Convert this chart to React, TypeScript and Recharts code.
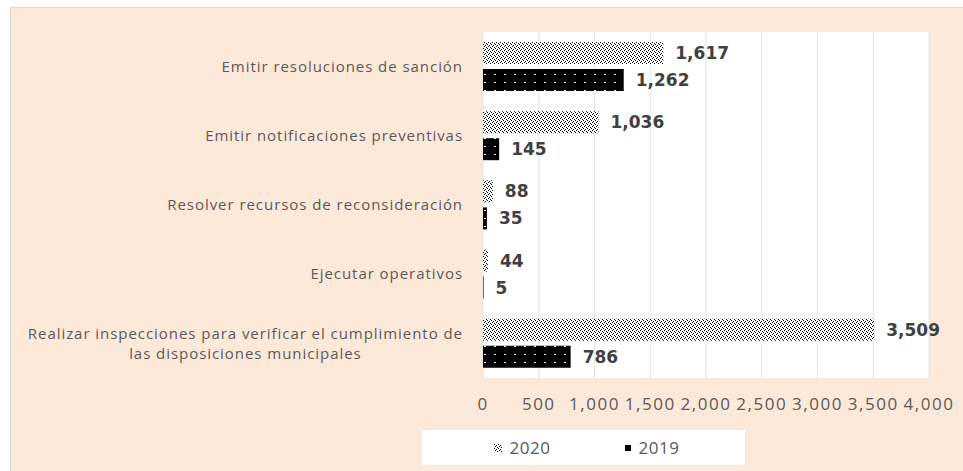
import { useLayoutEffect, useRef, useState } from "react";
import {
  BarChart,
  Bar,
  XAxis,
  YAxis,
  CartesianGrid,
  LabelList,
} from "recharts";

const categories = [
  "Emitir resoluciones de sanción",
  "Emitir notificaciones preventivas",
  "Resolver recursos de reconsideración",
  "Ejecutar operativos",
  "Realizar inspecciones para verificar el cumplimiento de\nlas disposiciones municipales",
];
const values2020 = [1617, 1036, 88, 44, 3509];
const values2019 = [1262, 145, 35, 5, 786];
const xTicks = [0, 500, 1000, 1500, 2000, 2500, 3000, 3500, 4000];
const seriesNames = ["2020", "2019"];

const data = categories.map((name, i) => ({
  name,
  y2020: values2020[i],
  y2019: values2019[i],
}));

const fmt = (v: number) => Number(v).toLocaleString("en-US");

const CategoryTick = ({ x, y, payload }: any) => {
  const lines = String(payload.value).split("\n");
  const ref = useRef<SVGTextElement>(null);
  const [w, setW] = useState(0);
  useLayoutEffect(() => {
    if (ref.current) setW(ref.current.getComputedTextLength());
  }, [payload.value]);
  const style = { fontFamily: "Open Sans", fontSize: 15, fill: "#595959", letterSpacing: 0.95 };
  const lh = 20;
  const start = y - ((lines.length - 1) * lh) / 2;
  return (
    <g>
      {lines.map((l, i) => (
        <text
          key={i}
          ref={i === 0 ? ref : undefined}
          x={i === 0 ? x : x - w / 2}
          y={start + i * lh}
          dy="0.35em"
          textAnchor={i === 0 ? "end" : "middle"}
          style={style}
        >
          {l}
        </text>
      ))}
    </g>
  );
};

const LegendBox = () => (
  <div
    style={{
      position: "absolute",
      left: 411,
      top: 422,
      background: "#fff",
      width: 323,
      height: 35,
      display: "flex",
      alignItems: "center",
      justifyContent: "center",
      gap: 74,
      fontFamily: "Open Sans",
      fontSize: 17,
      color: "#595959",
      letterSpacing: 0.5,
      paddingLeft: 6,
      boxSizing: "border-box",
    }}
  >
    <span style={{ display: "flex", alignItems: "center", gap: 8 }}>
      <svg width={8} height={8}>
        <rect width={8} height={8} fill="url(#pat2020)" />
      </svg>
      {seriesNames[0]}
    </span>
    <span style={{ display: "flex", alignItems: "center", gap: 8 }}>
      <svg width={6} height={6}>
        <rect width={6} height={6} fill="#000" />
      </svg>
      {seriesNames[1]}
    </span>
  </div>
);

export default function App() {
  return (
    <div
      style={{
        position: "absolute",
        left: 0,
        top: 0,
        width: 963,
        height: 471,
        background: "#fff",
        overflow: "hidden",
      }}
    >
      <svg width={0} height={0} style={{ position: "absolute" }}>
        <defs>
          <pattern id="pat2020" width={4} height={4} patternUnits="userSpaceOnUse">
            <rect width={4} height={4} fill="#fff" />
            <rect x={0} y={0} width={1} height={1} fill="#000" />
            <rect x={2} y={1} width={1} height={1} fill="#000" />
            <rect x={1} y={2} width={1} height={1} fill="#000" />
            <rect x={3} y={3} width={1} height={1} fill="#000" />
          </pattern>
          <pattern id="pat2019" width={10} height={8} patternUnits="userSpaceOnUse">
            <rect width={10} height={8} fill="#000" />
            <rect x={3} y={2} width={2} height={1} fill="#fff" />
          </pattern>
        </defs>
      </svg>
      <div
        style={{
          position: "absolute",
          left: 10,
          top: 7,
          width: 960,
          height: 470,
          background: "#fde9d9",
          borderTop: "1px solid #d9d9d9",
          borderLeft: "1px solid #d9d9d9",
        }}
      >
        <BarChart
          width={952}
          height={463}
          data={data}
          layout="vertical"
          margin={{ top: 24, right: 34, left: 0, bottom: 43 }}
          barSize={22}
          barGap={5}
        >
          <CartesianGrid horizontal={false} stroke="#e3e3e3" fill="#fff" />
          <XAxis
            type="number"
            domain={[0, 4000]}
            ticks={xTicks}
            tickFormatter={fmt}
            axisLine={false}
            tickLine={false}
            tickSize={0}
            tickMargin={20}
            height={50}
            interval={0}
            tick={{
              fontFamily: "Open Sans",
              fontSize: 17,
              fill: "#595959",
              letterSpacing: 1.5,
            }}
          />
          <YAxis
            type="category"
            dataKey="name"
            width={472}
            axisLine={false}
            tickLine={false}
            tickSize={0}
            tickMargin={20}
            interval={0}
            tick={(p: any) => <CategoryTick {...p} />}
          />
          <Bar dataKey="y2020" name={seriesNames[0]} fill="url(#pat2020)" isAnimationActive={false}>
            <LabelList
              dataKey="y2020"
              position="right"
              offset={12}
              formatter={fmt}
              style={{ fontFamily: "DejaVu Sans", fontWeight: 700, fontSize: 17, fill: "#404040" }}
            />
          </Bar>
          <Bar dataKey="y2019" name={seriesNames[1]} fill="url(#pat2019)" isAnimationActive={false}>
            <LabelList
              dataKey="y2019"
              position="right"
              offset={12}
              formatter={fmt}
              style={{ fontFamily: "DejaVu Sans", fontWeight: 700, fontSize: 17, fill: "#404040" }}
            />
          </Bar>
        </BarChart>
        <LegendBox />
      </div>
    </div>
  );
}
